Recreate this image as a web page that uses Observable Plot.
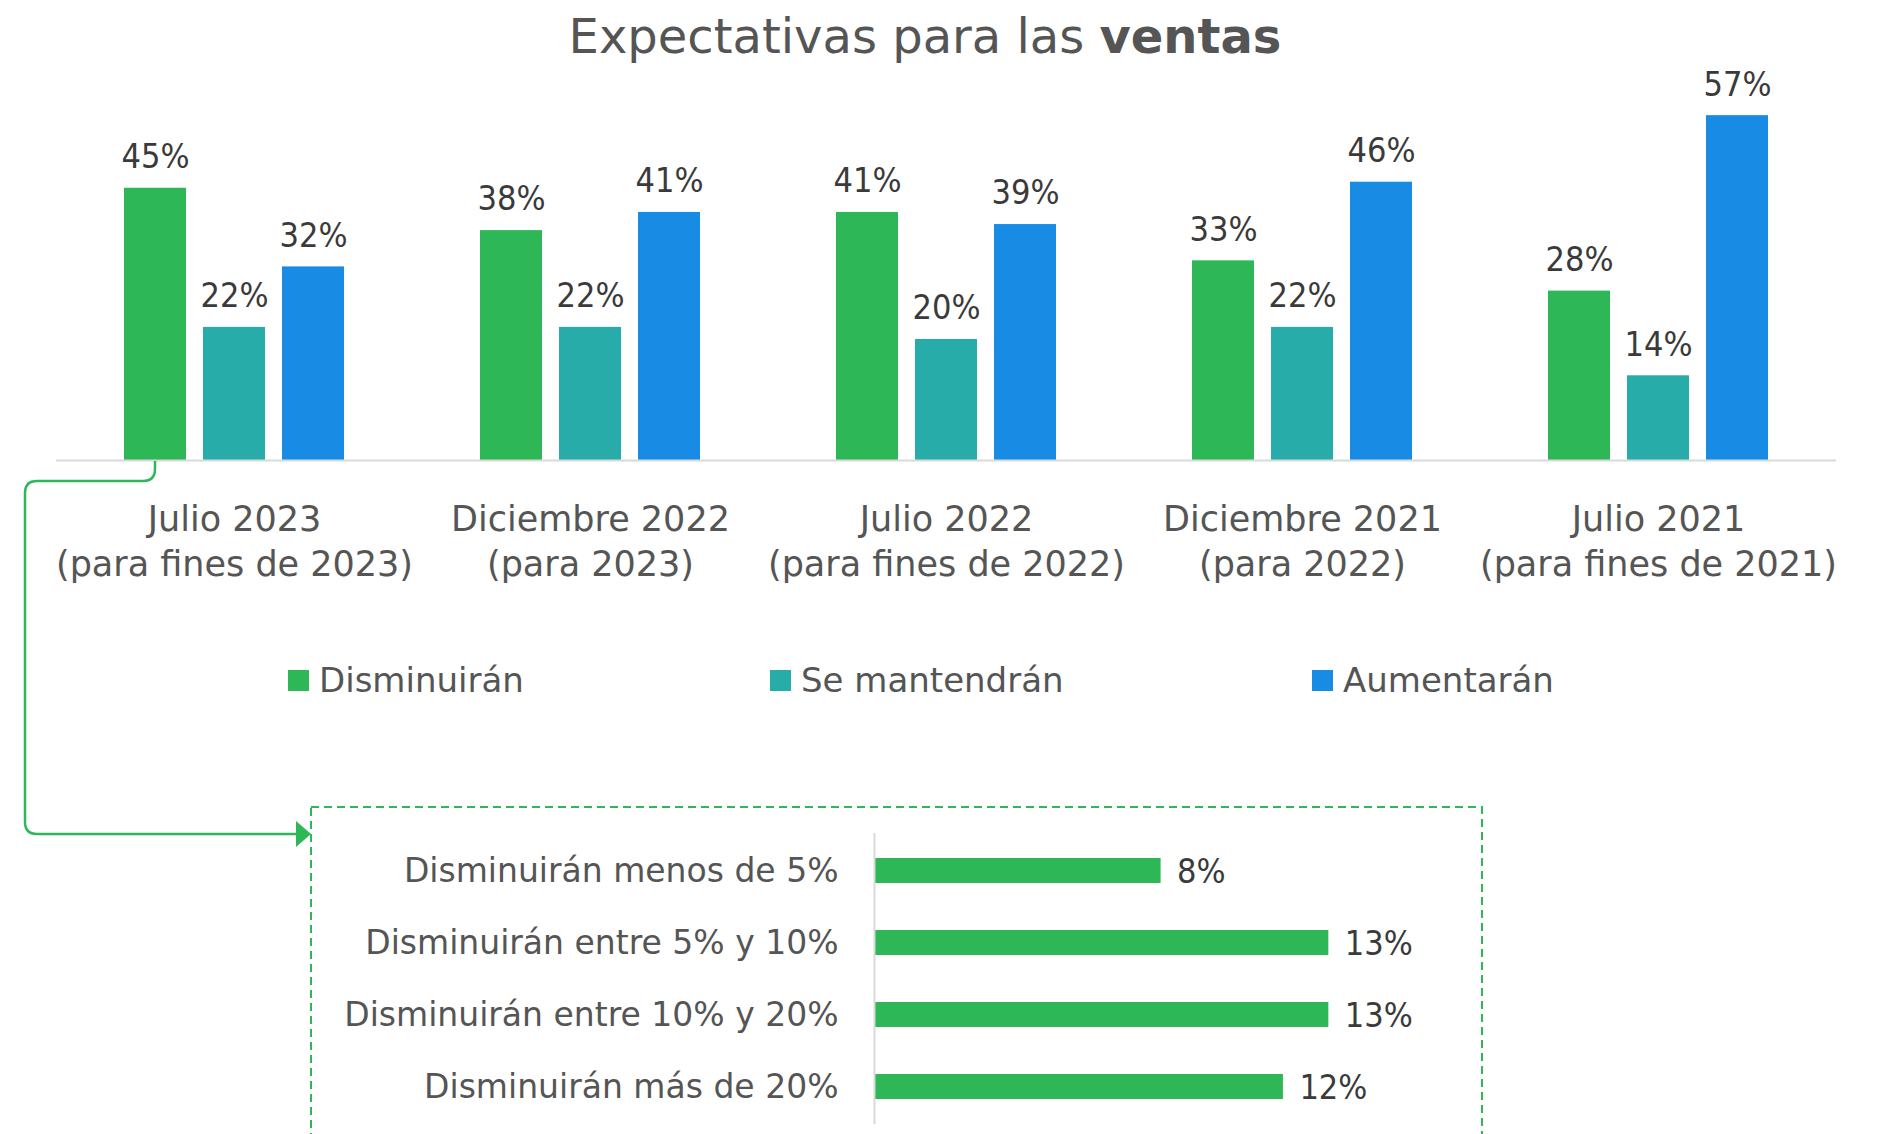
<!DOCTYPE html>
<html>
<head>
<meta charset="utf-8">
<script src="https://cdn.jsdelivr.net/npm/d3@7"></script>
<script src="https://cdn.jsdelivr.net/npm/@observablehq/plot@0.6"></script>
<style>
  html, body { margin: 0; padding: 0; background: #fff; }
  #page { position: relative; width: 1879px; height: 1134px; overflow: hidden; font-family: "DejaVu Sans", sans-serif; }
  #title { position: absolute; left: 0; top: 12px; width: 1850px; text-align: center; font-size: 48px; line-height: 48px; color: #555; }
  #title b { font-weight: bold; }
  .layer { position: absolute; left: 0; top: 0; }
  .legend-item { position: absolute; top: 663px; height: 34px; display: flex; align-items: center; font-size: 34px; line-height: 34px; color: #555; }
  .legend-item span.sw { display: inline-block; width: 21px; height: 21px; margin-right: 10px; }
</style>
</head>
<body>
<div id="page">
  <div id="main" class="layer"></div>
  <div id="inset" class="layer"></div>
  <svg id="overlay" class="layer" width="1879" height="1134"></svg>
  <div id="legend"></div>
  <div id="title">Expectativas para las <b>ventas</b></div>
</div>
<script>
// ---- Data ----
const periods = ["Julio 2023", "Diciembre 2022", "Julio 2022", "Diciembre 2021", "Julio 2021"];
const periodSub = ["(para fines de 2023)", "(para 2023)", "(para fines de 2022)", "(para 2022)", "(para fines de 2021)"];
const series = ["Disminuirán", "Se mantendrán", "Aumentarán"];
const colors = ["#2DB757", "#27ACAA", "#188CE5"];
const disminuiran = [45, 38, 41, 33, 28];
const mantendran = [22, 22, 20, 22, 14];
const aumentaran = [32, 41, 39, 46, 57];

const insetCats = ["Disminuirán menos de 5%", "Disminuirán entre 5% y 10%", "Disminuirán entre 10% y 20%", "Disminuirán más de 20%"];
const insetValues = [8.2, 13.0, 13.0, 11.7];

// ---- Tables built from arrays ----
const seriesValues = [disminuiran, mantendran, aumentaran];
const mainData = [];
periods.forEach((p, i) => series.forEach((s, j) => mainData.push({period: p, series: s, value: seriesValues[j][i]})));
const periodLabel = new Map(periods.map((p, i) => [p, p + "\n" + periodSub[i]]));
const insetData = insetCats.map((c, i) => ({cat: c, value: insetValues[i]}));

const FONT = "DejaVu Sans";

// ---- Main grouped bar chart ----
const main = Plot.plot({
  width: 1879,
  height: 600,
  marginLeft: 56,
  marginRight: 43,
  marginTop: 97,
  marginBottom: 140,
  style: {background: "transparent", fontFamily: FONT},
  fx: {domain: periods, padding: 0, axis: null, label: null},
  x: {domain: series, paddingInner: 0.215, paddingOuter: 0.86, axis: null, label: null},
  y: {domain: [0, 60], axis: null, label: null},
  color: {domain: series, range: colors},
  marks: [
    Plot.barY(mainData, {fx: "period", x: "series", y: "value", fill: "series"}),
    Plot.ruleY([0], {stroke: "#d9d9d9", strokeWidth: 2}),
    Plot.text(mainData, {fx: "period", x: "series", y: "value", text: d => d.value + "%", dy: -31,
      fontSize: 34, fill: "#3a3a3a", fontFamily: "'DejaVu Sans Condensed', 'DejaVu Sans'", fontStretch: "condensed"}),
    Plot.text(periods, {fx: d => d, text: d => periodLabel.get(d), frameAnchor: "bottom", lineAnchor: "top",
      dy: 39, lineHeight: 1.27, fontSize: 35, fill: "#555"})
  ]
});
document.getElementById("main").appendChild(main);

// ---- Legend ----
const legendX = [288, 770, 1312];
const legend = document.getElementById("legend");
series.forEach((s, i) => {
  const item = document.createElement("div");
  item.className = "legend-item";
  item.style.left = legendX[i] + "px";
  const sw = document.createElement("span");
  sw.className = "sw";
  sw.style.background = colors[i];
  item.appendChild(sw);
  item.appendChild(document.createTextNode(s));
  legend.appendChild(item);
});

// ---- Inset horizontal bar chart ----
const inset = Plot.plot({
  width: 1879,
  height: 1134,
  marginLeft: 874,
  marginRight: 306,
  marginTop: 833,
  marginBottom: 10,
  style: {background: "transparent", fontFamily: FONT},
  x: {domain: [0, 20], axis: null, label: null},
  y: {domain: insetCats, paddingInner: 0.65, paddingOuter: 0.32, axis: null, label: null},
  marks: [
    Plot.barX(insetData, {y: "cat", x: "value", fill: colors[0]}),
    Plot.ruleX([0], {stroke: "#d9d9d9", strokeWidth: 2}),
    Plot.text(insetData, {y: "cat", x: "value", text: d => Math.round(d.value) + "%", textAnchor: "start", dx: 16, dy: 1,
      fontSize: 34, fill: "#3a3a3a", fontFamily: "'DejaVu Sans Condensed', 'DejaVu Sans'", fontStretch: "condensed"}),
    Plot.text(insetCats, {y: d => d, text: d => d, frameAnchor: "left", textAnchor: "end", dx: -36,
      fontSize: 33, fill: "#555"})
  ]
});
document.getElementById("inset").appendChild(inset);

// ---- Annotation: connector arrow and dashed box ----
const ov = d3.select("#overlay");
const g = "#2DB757";
ov.append("rect").attr("x", 311).attr("y", 807).attr("width", 1171).attr("height", 400)
  .attr("fill", "none").attr("stroke", g).attr("stroke-width", 2).attr("stroke-dasharray", "8 5");
ov.append("path")
  .attr("d", "M155,461 V469 Q155,481 143,481 H37 Q25,481 25,493 V822 Q25,834 37,834 H298")
  .attr("fill", "none").attr("stroke", g).attr("stroke-width", 2.5);
ov.append("path").attr("d", "M296,821 L311,834 L296,847 Z").attr("fill", g);
</script>
</body>
</html>
